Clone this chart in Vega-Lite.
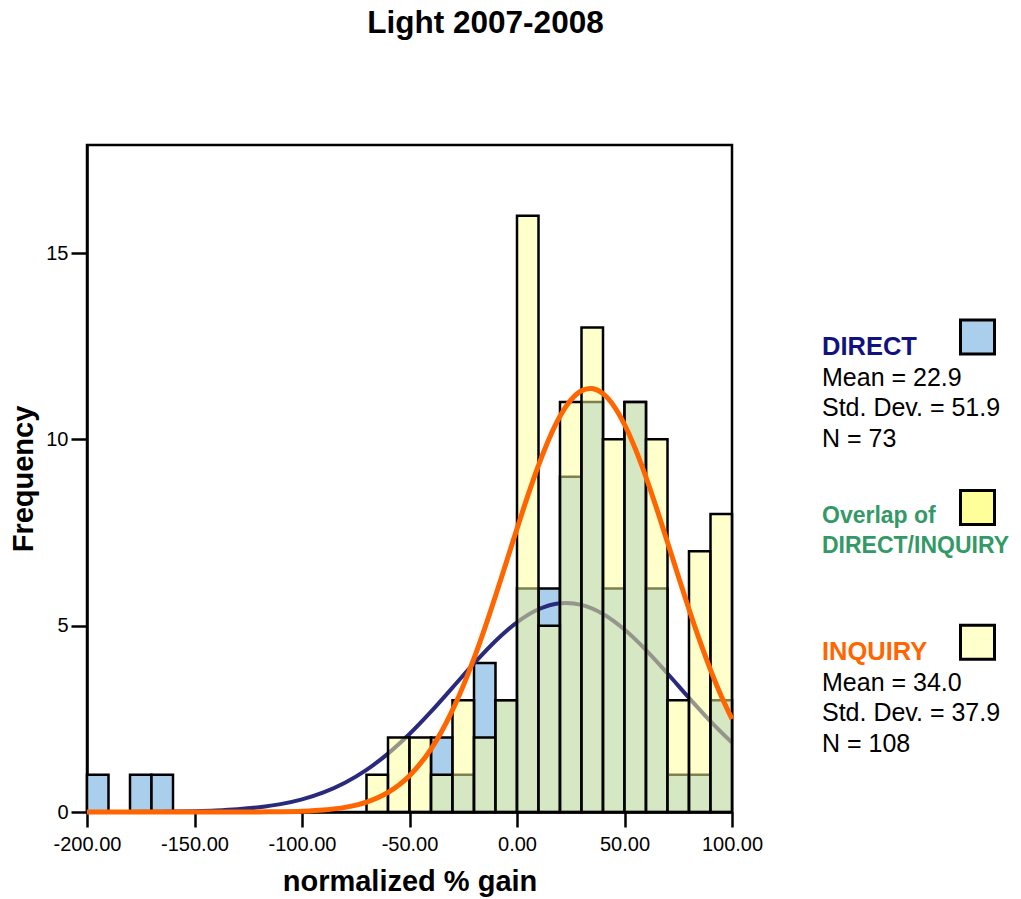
{
  "$schema": "https://vega.github.io/schema/vega-lite/v6.json",
  "width": 645,
  "height": 667,
  "autosize": {"type": "none"},
  "padding": {"left": 87, "top": 145, "right": 289, "bottom": 87},
  "background": "white",
  "title": {
    "text": "Light 2007-2008",
    "font": "Liberation Sans",
    "fontSize": 31.5,
    "fontWeight": "bold",
    "color": "black",
    "anchor": "middle",
    "frame": "group",
    "baseline": "alphabetic",
    "dx": 76,
    "offset": 81
  },
  "config": {
    "font": "Liberation Sans",
    "view": {"stroke": "black", "strokeWidth": 2.5},
    "axis": {
      "grid": false,
      "domainColor": "black",
      "domainWidth": 2.5,
      "tickColor": "black",
      "tickWidth": 2.5,
      "labelColor": "black",
      "titleColor": "black",
      "labelFont": "Liberation Sans",
      "titleFont": "Liberation Sans"
    }
  },
  "datasets": {
    "bins": [
      {"bin_start": -200, "bin_end": -190, "direct": 1, "inquiry": 0},
      {"bin_start": -180, "bin_end": -170, "direct": 1, "inquiry": 0},
      {"bin_start": -170, "bin_end": -160, "direct": 1, "inquiry": 0},
      {"bin_start": -70, "bin_end": -60, "direct": 0, "inquiry": 1},
      {"bin_start": -60, "bin_end": -50, "direct": 0, "inquiry": 2},
      {"bin_start": -50, "bin_end": -40, "direct": 0, "inquiry": 2},
      {"bin_start": -40, "bin_end": -30, "direct": 2, "inquiry": 1},
      {"bin_start": -30, "bin_end": -20, "direct": 1, "inquiry": 3},
      {"bin_start": -20, "bin_end": -10, "direct": 4, "inquiry": 2},
      {"bin_start": -10, "bin_end": 0, "direct": 3, "inquiry": 3},
      {"bin_start": 0, "bin_end": 10, "direct": 6, "inquiry": 16},
      {"bin_start": 10, "bin_end": 20, "direct": 6, "inquiry": 5},
      {"bin_start": 20, "bin_end": 30, "direct": 9, "inquiry": 11},
      {"bin_start": 30, "bin_end": 40, "direct": 11, "inquiry": 13},
      {"bin_start": 40, "bin_end": 50, "direct": 6, "inquiry": 10},
      {"bin_start": 50, "bin_end": 60, "direct": 11, "inquiry": 11},
      {"bin_start": 60, "bin_end": 70, "direct": 6, "inquiry": 10},
      {"bin_start": 70, "bin_end": 80, "direct": 1, "inquiry": 3},
      {"bin_start": 80, "bin_end": 90, "direct": 1, "inquiry": 7},
      {"bin_start": 90, "bin_end": 100, "direct": 3, "inquiry": 8}
    ],
    "curves": [
      {"series": "DIRECT", "gain": -200, "freq": 0.0006},
      {"series": "DIRECT", "gain": -190, "freq": 0.0012},
      {"series": "DIRECT", "gain": -180, "freq": 0.0027},
      {"series": "DIRECT", "gain": -170, "freq": 0.0056},
      {"series": "DIRECT", "gain": -160, "freq": 0.0113},
      {"series": "DIRECT", "gain": -150, "freq": 0.0218},
      {"series": "DIRECT", "gain": -140, "freq": 0.0407},
      {"series": "DIRECT", "gain": -130, "freq": 0.0731},
      {"series": "DIRECT", "gain": -120, "freq": 0.1268},
      {"series": "DIRECT", "gain": -110, "freq": 0.2114},
      {"series": "DIRECT", "gain": -100, "freq": 0.3400},
      {"series": "DIRECT", "gain": -90, "freq": 0.5267},
      {"series": "DIRECT", "gain": -80, "freq": 0.7862},
      {"series": "DIRECT", "gain": -70, "freq": 1.1306},
      {"series": "DIRECT", "gain": -60, "freq": 1.5669},
      {"series": "DIRECT", "gain": -50, "freq": 2.0925},
      {"series": "DIRECT", "gain": -40, "freq": 2.6924},
      {"series": "DIRECT", "gain": -30, "freq": 3.3379},
      {"series": "DIRECT", "gain": -20, "freq": 3.9877},
      {"series": "DIRECT", "gain": -10, "freq": 4.5901},
      {"series": "DIRECT", "gain": 0, "freq": 5.0909},
      {"series": "DIRECT", "gain": 10, "freq": 5.4407},
      {"series": "DIRECT", "gain": 20, "freq": 5.6026},
      {"series": "DIRECT", "gain": 22.9, "freq": 5.6114},
      {"series": "DIRECT", "gain": 30, "freq": 5.5592},
      {"series": "DIRECT", "gain": 40, "freq": 5.3150},
      {"series": "DIRECT", "gain": 50, "freq": 4.8963},
      {"series": "DIRECT", "gain": 60, "freq": 4.3462},
      {"series": "DIRECT", "gain": 70, "freq": 3.7174},
      {"series": "DIRECT", "gain": 80, "freq": 3.0637},
      {"series": "DIRECT", "gain": 90, "freq": 2.4328},
      {"series": "DIRECT", "gain": 100, "freq": 1.8614},
      {"series": "INQUIRY", "gain": -200, "freq": 0},
      {"series": "INQUIRY", "gain": -190, "freq": 0},
      {"series": "INQUIRY", "gain": -180, "freq": 0},
      {"series": "INQUIRY", "gain": -170, "freq": 0},
      {"series": "INQUIRY", "gain": -160, "freq": 0.0000},
      {"series": "INQUIRY", "gain": -150, "freq": 0.0001},
      {"series": "INQUIRY", "gain": -140, "freq": 0.0003},
      {"series": "INQUIRY", "gain": -130, "freq": 0.0010},
      {"series": "INQUIRY", "gain": -120, "freq": 0.0030},
      {"series": "INQUIRY", "gain": -110, "freq": 0.0083},
      {"series": "INQUIRY", "gain": -100, "freq": 0.0219},
      {"series": "INQUIRY", "gain": -90, "freq": 0.0539},
      {"series": "INQUIRY", "gain": -80, "freq": 0.1233},
      {"series": "INQUIRY", "gain": -70, "freq": 0.2634},
      {"series": "INQUIRY", "gain": -60, "freq": 0.5247},
      {"series": "INQUIRY", "gain": -50, "freq": 0.9750},
      {"series": "INQUIRY", "gain": -40, "freq": 1.6902},
      {"series": "INQUIRY", "gain": -35, "freq": 2.1678},
      {"series": "INQUIRY", "gain": -30, "freq": 2.7321},
      {"series": "INQUIRY", "gain": -25, "freq": 3.3842},
      {"series": "INQUIRY", "gain": -20, "freq": 4.1195},
      {"series": "INQUIRY", "gain": -15, "freq": 4.9286},
      {"series": "INQUIRY", "gain": -10, "freq": 5.7942},
      {"series": "INQUIRY", "gain": -5, "freq": 6.6952},
      {"series": "INQUIRY", "gain": 0, "freq": 7.6022},
      {"series": "INQUIRY", "gain": 5, "freq": 8.4832},
      {"series": "INQUIRY", "gain": 10, "freq": 9.3031},
      {"series": "INQUIRY", "gain": 15, "freq": 10.0258},
      {"series": "INQUIRY", "gain": 20, "freq": 10.6186},
      {"series": "INQUIRY", "gain": 25, "freq": 11.0523},
      {"series": "INQUIRY", "gain": 30, "freq": 11.3052},
      {"series": "INQUIRY", "gain": 34, "freq": 11.3683},
      {"series": "INQUIRY", "gain": 35, "freq": 11.3643},
      {"series": "INQUIRY", "gain": 40, "freq": 11.2268},
      {"series": "INQUIRY", "gain": 45, "freq": 10.8995},
      {"series": "INQUIRY", "gain": 50, "freq": 10.3991},
      {"series": "INQUIRY", "gain": 55, "freq": 9.7505},
      {"series": "INQUIRY", "gain": 60, "freq": 8.9843},
      {"series": "INQUIRY", "gain": 65, "freq": 8.1363},
      {"series": "INQUIRY", "gain": 70, "freq": 7.2407},
      {"series": "INQUIRY", "gain": 75, "freq": 6.3327},
      {"series": "INQUIRY", "gain": 80, "freq": 5.4428},
      {"series": "INQUIRY", "gain": 85, "freq": 4.5970},
      {"series": "INQUIRY", "gain": 90, "freq": 3.8160},
      {"series": "INQUIRY", "gain": 95, "freq": 3.1131},
      {"series": "INQUIRY", "gain": 100, "freq": 2.4957}
    ],
    "legendText": [
      {"group": "DIRECT", "role": "head", "part": "text", "line": 0, "label": "DIRECT"},
      {"group": "DIRECT", "role": "stat", "part": "text", "line": 1, "label": "Mean = 22.9"},
      {"group": "DIRECT", "role": "stat", "part": "text", "line": 2, "label": "Std. Dev. = 51.9"},
      {"group": "DIRECT", "role": "stat", "part": "text", "line": 3, "label": "N = 73"},
      {"group": "Overlap", "role": "head", "part": "text", "line": 5, "label": "Overlap of"},
      {"group": "Overlap", "role": "head", "part": "text", "line": 6, "label": "DIRECT/INQUIRY"},
      {"group": "INQUIRY", "role": "head", "part": "text", "line": 10, "label": "INQUIRY"},
      {"group": "INQUIRY", "role": "stat", "part": "text", "line": 11, "label": "Mean = 34.0"},
      {"group": "INQUIRY", "role": "stat", "part": "text", "line": 12, "label": "Std. Dev. = 37.9"},
      {"group": "INQUIRY", "role": "stat", "part": "text", "line": 13, "label": "N = 108"}
    ],
    "legendSwatch": [
      {"group": "DIRECT", "part": "swatch", "line": 0},
      {"group": "Overlap", "part": "swatch", "line": 5},
      {"group": "INQUIRY", "part": "swatch", "line": 10}
    ]
  },
  "layer": [
    {
      "layer": [
        {
          "data": {"name": "bins"},
          "transform": [{"filter": "datum.direct > 0"}],
          "mark": {"type": "rect", "fill": "#AACFEC", "stroke": "black", "strokeWidth": 2.5},
          "encoding": {
            "x": {
              "field": "bin_start",
              "type": "quantitative",
              "title": "normalized % gain",
              "scale": {"domain": [-200, 100], "nice": false, "zero": false},
              "axis": {
                "values": [-200, -150, -100, -50, 0, 50, 100],
                "labelExpr": "(datum.value < 0 ? '-' : '') + format(abs(datum.value), '.2f')",
                "tickSize": 15,
                "labelFontSize": 20,
                "labelPadding": 7,
                "labelFlush": false,
                "labelOverlap": false,
                "titleFontSize": 29,
                "titleFontWeight": "bold",
                "titlePadding": 13
              }
            },
            "x2": {"field": "bin_end"},
            "y": {
              "field": "direct",
              "type": "quantitative",
              "title": "Frequency",
              "scale": {"domain": [0, 17.9], "nice": false},
              "axis": {
                "values": [0, 5, 10, 15],
                "tickSize": 16,
                "labelFontSize": 20,
                "labelPadding": 3,
                "titleFontSize": 29,
                "titleFontWeight": "bold",
                "titlePadding": 7
              }
            },
            "y2": {"datum": 0}
          }
        },
        {
          "data": {"name": "curves"},
          "transform": [{"filter": "datum.series === 'DIRECT'"}],
          "mark": {"type": "line", "color": "#2A2A7C", "strokeWidth": 4, "interpolate": "monotone"},
          "encoding": {
            "x": {"field": "gain", "type": "quantitative", "title": "normalized % gain"},
            "y": {"field": "freq", "type": "quantitative", "title": "Frequency"}
          }
        },
        {
          "data": {"name": "bins"},
          "transform": [{"filter": "datum.inquiry > 0"}],
          "mark": {"type": "rect", "fill": "#FFFF99", "fillOpacity": 0.5, "stroke": "black", "strokeWidth": 2.5},
          "encoding": {
            "x": {"field": "bin_start", "type": "quantitative", "title": "normalized % gain"},
            "x2": {"field": "bin_end"},
            "y": {"field": "inquiry", "type": "quantitative", "title": "Frequency"},
            "y2": {"datum": 0}
          }
        },
        {
          "data": {"name": "curves"},
          "transform": [{"filter": "datum.series === 'INQUIRY'"}],
          "mark": {"type": "line", "color": "#FF6600", "strokeWidth": 5, "interpolate": "monotone"},
          "encoding": {
            "x": {"field": "gain", "type": "quantitative", "title": "normalized % gain"},
            "y": {"field": "freq", "type": "quantitative", "title": "Frequency"}
          }
        }
      ]
    },
    {
      "encoding": {
        "x": {
          "field": "part",
          "type": "nominal",
          "scale": {"type": "point", "domain": ["text", "swatch"], "range": [735, 890.5], "padding": 0},
          "axis": null
        },
        "y": {
          "field": "line",
          "type": "quantitative",
          "scale": {"domain": [0, 13], "range": [210, 606.7], "zero": false, "nice": false},
          "axis": null
        }
      },
      "layer": [
        {
          "data": {"name": "legendText"},
          "transform": [{"filter": "datum.role === 'head' && datum.group !== 'Overlap'"}],
          "mark": {"type": "text", "align": "left", "baseline": "alphabetic", "fontSize": 25.5, "fontWeight": "bold"},
          "encoding": {
            "text": {"field": "label"},
            "color": {
              "field": "group",
              "type": "nominal",
              "scale": {"domain": ["DIRECT", "Overlap", "INQUIRY"], "range": ["#12127F", "#339966", "#FF6600"]},
              "legend": null
            }
          }
        },
        {
          "data": {"name": "legendText"},
          "transform": [{"filter": "datum.group === 'Overlap'"}],
          "mark": {"type": "text", "align": "left", "baseline": "alphabetic", "fontSize": 23, "fontWeight": "bold", "dy": 15},
          "encoding": {
            "text": {"field": "label"},
            "color": {
              "field": "group",
              "type": "nominal",
              "scale": {"domain": ["DIRECT", "Overlap", "INQUIRY"], "range": ["#12127F", "#339966", "#FF6600"]},
              "legend": null
            }
          }
        },
        {
          "data": {"name": "legendText"},
          "transform": [{"filter": "datum.role === 'stat'"}],
          "mark": {"type": "text", "align": "left", "baseline": "alphabetic", "fontSize": 25, "color": "black"},
          "encoding": {"text": {"field": "label"}}
        },
        {
          "data": {"name": "legendSwatch"},
          "transform": [{"filter": "datum.group !== 'Overlap'"}],
          "mark": {"type": "square", "size": 1156, "opacity": 1, "filled": true, "stroke": "black", "strokeWidth": 3, "yOffset": -18},
          "encoding": {
            "fill": {
              "field": "group",
              "type": "nominal",
              "scale": {"domain": ["DIRECT", "Overlap", "INQUIRY"], "range": ["#AACFEC", "#FFFF99", "#FFFFCC"]},
              "legend": null
            }
          }
        },
        {
          "data": {"name": "legendSwatch"},
          "transform": [{"filter": "datum.group === 'Overlap'"}],
          "mark": {"type": "square", "size": 1156, "opacity": 1, "filled": true, "stroke": "black", "strokeWidth": 3},
          "encoding": {
            "fill": {
              "field": "group",
              "type": "nominal",
              "scale": {"domain": ["DIRECT", "Overlap", "INQUIRY"], "range": ["#AACFEC", "#FFFF99", "#FFFFCC"]},
              "legend": null
            }
          }
        }
      ]
    }
  ],
  "resolve": {"scale": {"x": "independent", "y": "independent"}}
}
